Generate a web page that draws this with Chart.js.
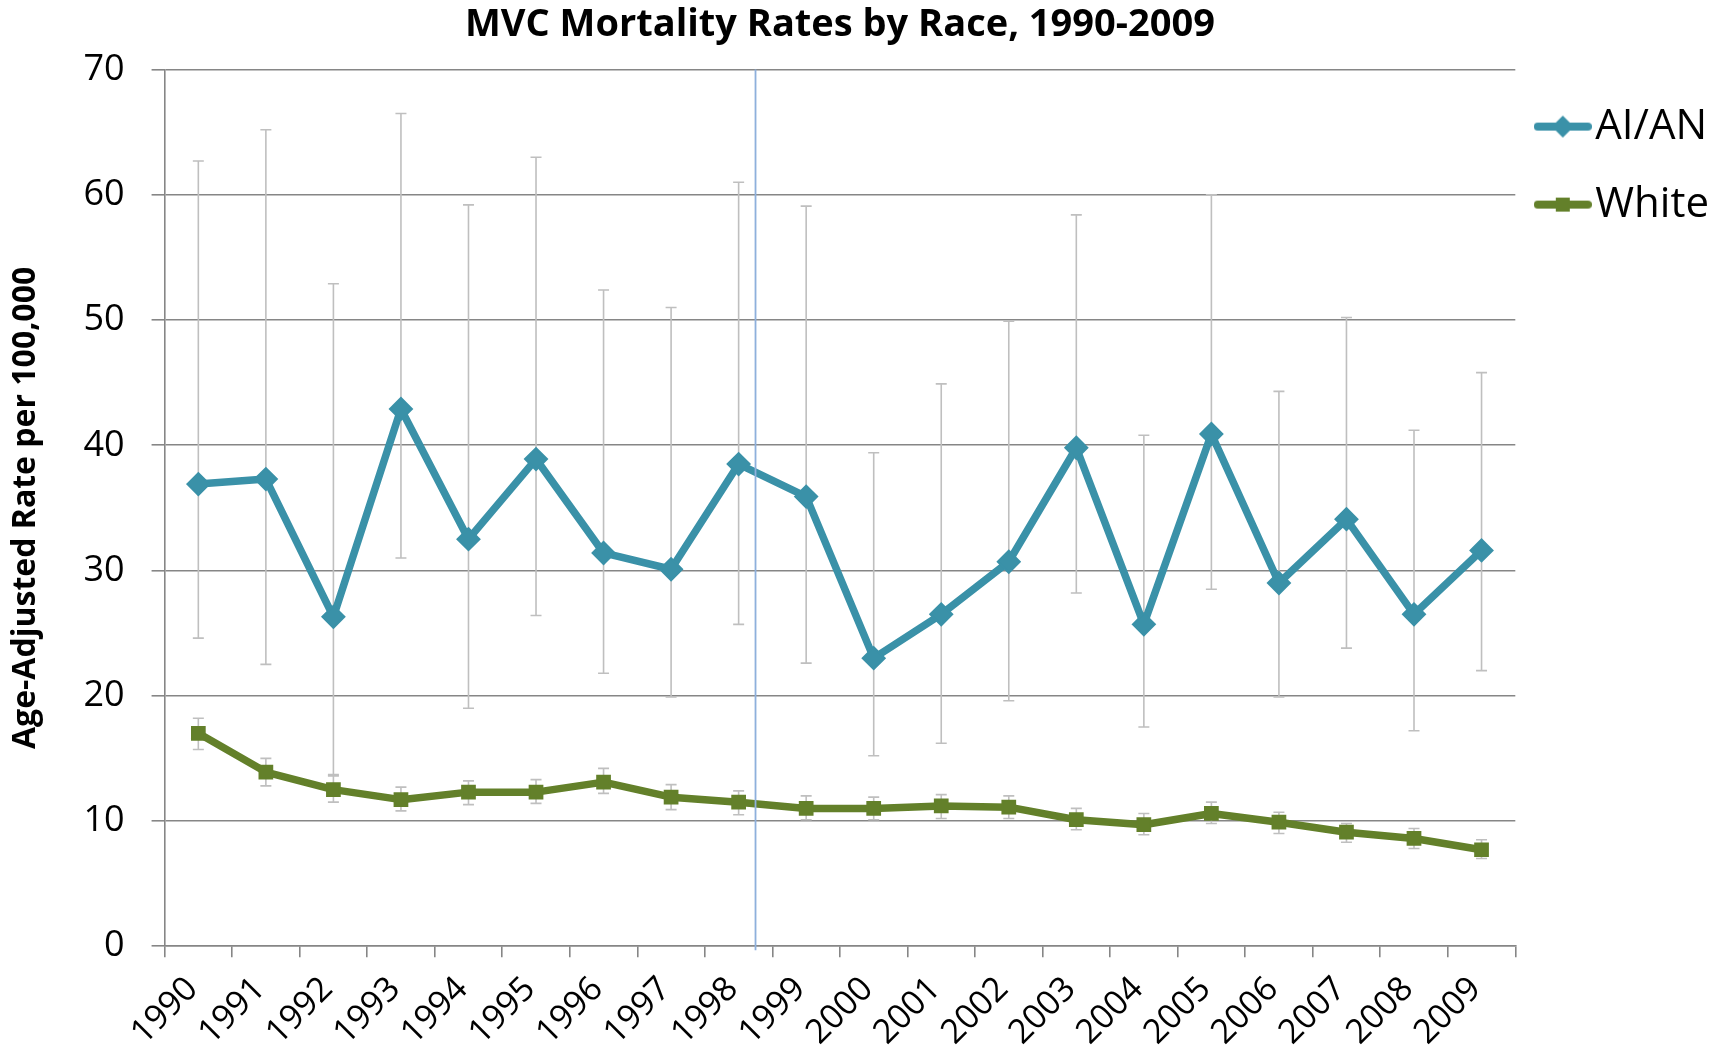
<!DOCTYPE html>
<html>
<head>
<meta charset="utf-8">
<script src="https://cdn.jsdelivr.net/npm/chart.js@4/dist/chart.umd.min.js"></script>
<style>
  html, body { margin: 0; padding: 0; background: #ffffff; }
  #wrap { width: 1733px; height: 1045px; }
  canvas { display: block; }
</style>
</head>
<body>
<div id="wrap"><canvas id="chart" width="1733" height="1045"></canvas></div>
<script>
// ---------------- data ----------------
const years = ['1990','1991','1992','1993','1994','1995','1996','1997','1998','1999',
               '2000','2001','2002','2003','2004','2005','2006','2007','2008','2009'];

const aianRate  = [36.9, 37.3, 26.3, 42.9, 32.5, 38.9, 31.4, 30.1, 38.5, 35.9,
                   23.0, 26.5, 30.7, 39.8, 25.7, 40.9, 29.0, 34.1, 26.5, 31.6];
const aianLower = [24.6, 22.5, 13.7, 31.0, 19.0, 26.4, 21.8, 19.9, 25.7, 22.6,
                   15.2, 16.2, 19.6, 28.2, 17.5, 28.5, 19.9, 23.8, 17.2, 22.0];
const aianUpper = [62.7, 65.2, 52.9, 66.5, 59.2, 63.0, 52.4, 51.0, 61.0, 59.1,
                   39.4, 44.9, 49.9, 58.4, 40.8, 60.0, 44.3, 50.2, 41.2, 45.8];

const whiteRate  = [17.0, 13.9, 12.5, 11.7, 12.3, 12.3, 13.1, 11.9, 11.5, 11.0,
                    11.0, 11.2, 11.1, 10.1, 9.7, 10.6, 9.9, 9.1, 8.6, 7.7];
const whiteLower = [15.7, 12.8, 11.5, 10.8, 11.3, 11.4, 12.2, 10.9, 10.5, 10.1,
                    10.1, 10.2, 10.2, 9.3, 8.9, 9.8, 9.0, 8.3, 7.8, 7.0];
const whiteUpper = [18.2, 15.0, 13.6, 12.7, 13.2, 13.3, 14.2, 12.9, 12.4, 12.0,
                    11.9, 12.1, 12.0, 11.0, 10.6, 11.5, 10.7, 9.8, 9.4, 8.5];

const yMin = 0, yMax = 70, yStep = 10;
const seriesNames = ['AI/AN', 'White'];
const titleText = 'MVC Mortality Rates by Race, 1990-2009';
const yAxisTitle = 'Age-Adjusted Rate per 100,000';
// vertical reference line position on the category axis (between 1998 and 1999)
const markerLinePosition = 8.25;

// ---------------- styles ----------------
const AIAN_COLOR = '#3A91A8';
const WHITE_COLOR = '#63802A';
const GRID_COLOR = '#868686';
const ERR_COLOR = '#BFBFBF';
const MARKER_LINE_COLOR = '#8EB0DC';
const FONT = '"Open Sans", "Noto Sans", "DejaVu Sans", sans-serif';

function makeLegendIcon(color, shape) {
  const c = document.createElement('canvas');
  c.width = 58; c.height = 26;
  const g = c.getContext('2d');
  g.strokeStyle = color;
  g.lineWidth = 8;
  g.lineCap = 'round';
  g.beginPath(); g.moveTo(4, 13); g.lineTo(54, 13); g.stroke();
  g.fillStyle = color;
  if (shape === 'diamond') {
    g.beginPath();
    g.moveTo(29, 2); g.lineTo(40, 13); g.lineTo(29, 24); g.lineTo(18, 13);
    g.closePath(); g.fill();
  } else {
    g.fillRect(22, 6, 14, 14);
  }
  return c;
}

const errorBars = [
  { lower: aianLower, upper: aianUpper },
  { lower: whiteLower, upper: whiteUpper }
];

const markerLinePlugin = {
  id: 'markerLine',
  afterDatasetsDraw(chart) {
    const { ctx, chartArea, scales } = chart;
    const px = scales.x.getPixelForValue(markerLinePosition);
    ctx.save();
    ctx.strokeStyle = MARKER_LINE_COLOR;
    ctx.lineWidth = 1.8;
    ctx.beginPath();
    ctx.moveTo(px, chartArea.top);
    ctx.lineTo(px, chartArea.bottom + 4);
    ctx.stroke();
    ctx.restore();
  }
};

const errorBarPlugin = {
  id: 'errorBars',
  beforeDatasetsDraw(chart) {
    const { ctx, scales } = chart;
    const xs = scales.x, ys = scales.y;
    ctx.save();
    ctx.strokeStyle = ERR_COLOR;
    ctx.lineWidth = 1.6;
    const cap = 5.5;
    errorBars.forEach(eb => {
      years.forEach((yr, i) => {
        const px = xs.getPixelForValue(i);
        const yl = ys.getPixelForValue(eb.lower[i]);
        const yh = ys.getPixelForValue(eb.upper[i]);
        ctx.beginPath();
        ctx.moveTo(px, yl); ctx.lineTo(px, yh);
        ctx.moveTo(px - cap, yl); ctx.lineTo(px + cap, yl);
        ctx.moveTo(px - cap, yh); ctx.lineTo(px + cap, yh);
        ctx.stroke();
      });
    });
    ctx.restore();
  }
};

function build() {
  const legendIcons = [makeLegendIcon(AIAN_COLOR, 'diamond'), makeLegendIcon(WHITE_COLOR, 'square')];
  new Chart(document.getElementById('chart'), {
    type: 'line',
    data: {
      labels: years,
      datasets: [
        {
          label: seriesNames[0],
          data: aianRate,
          borderColor: AIAN_COLOR,
          backgroundColor: AIAN_COLOR,
          borderWidth: 7.5,
          borderJoinStyle: 'round',
          pointStyle: 'rectRot',
          pointRadius: 11,
          pointBorderWidth: 2,
          pointBackgroundColor: AIAN_COLOR,
          pointBorderColor: AIAN_COLOR,
          tension: 0,
          fill: false
        },
        {
          label: seriesNames[1],
          data: whiteRate,
          borderColor: WHITE_COLOR,
          backgroundColor: WHITE_COLOR,
          borderWidth: 7.5,
          borderJoinStyle: 'round',
          pointStyle: 'rect',
          pointRadius: 9,
          pointBorderWidth: 2,
          pointBackgroundColor: WHITE_COLOR,
          pointBorderColor: WHITE_COLOR,
          tension: 0,
          fill: false
        }
      ]
    },
    options: {
      responsive: false,
      devicePixelRatio: 1,
      animation: false,
      events: [],
      layout: { padding: { left: 0, right: 14, top: 0, bottom: -20 } },
      plugins: {
        title: {
          display: true,
          text: titleText,
          fullSize: false,
          color: '#000',
          font: { family: FONT, size: 38, weight: 'bold' },
          padding: { top: 2, bottom: 22 }
        },
        legend: {
          display: true,
          position: 'right',
          align: 'start',
          fullSize: false,
          labels: {
            color: '#000',
            font: { family: FONT, size: 42 },
            usePointStyle: true,
            pointStyleWidth: 23,
            padding: 36,
            generateLabels(chart) {
              return chart.data.datasets.map((ds, i) => ({
                text: ds.label,
                fillStyle: ds.borderColor,
                strokeStyle: ds.borderColor,
                lineWidth: 0,
                pointStyle: legendIcons[i],
                hidden: false,
                datasetIndex: i
              }));
            }
          }
        },
        tooltip: { enabled: false }
      },
      scales: {
        x: {
          type: 'category',
          offset: true,
          grid: {
            offset: true,
            drawOnChartArea: false,
            drawTicks: true,
            tickLength: 11,
            color: GRID_COLOR,
            lineWidth: 1.6
          },
          border: { color: GRID_COLOR, width: 1.6 },
          ticks: {
            autoSkip: false,
            maxRotation: 45,
            minRotation: 45,
            padding: 12,
            labelOffset: -6,
            color: '#000',
            font: { family: FONT, size: 34 }
          }
        },
        y: {
          min: yMin,
          max: yMax,
          grid: {
            color: GRID_COLOR,
            lineWidth: 1.6,
            drawTicks: true,
            tickLength: 13
          },
          border: { color: GRID_COLOR, width: 1.6 },
          ticks: {
            stepSize: yStep,
            padding: 27,
            color: '#000',
            font: { family: FONT, size: 36 }
          },
          title: {
            display: true,
            text: yAxisTitle,
            color: '#000',
            font: { family: FONT, size: 32, weight: 'bold' },
            padding: { top: 7, bottom: 11 }
          }
        }
      }
    },
    plugins: [markerLinePlugin, errorBarPlugin]
  });
}

const fontLoads = [
  '36px "Open Sans"', 'bold 36px "Open Sans"'
].map(f => document.fonts && document.fonts.load ? document.fonts.load(f) : Promise.resolve());
Promise.all(fontLoads).then(build, build);
</script>
</body>
</html>
